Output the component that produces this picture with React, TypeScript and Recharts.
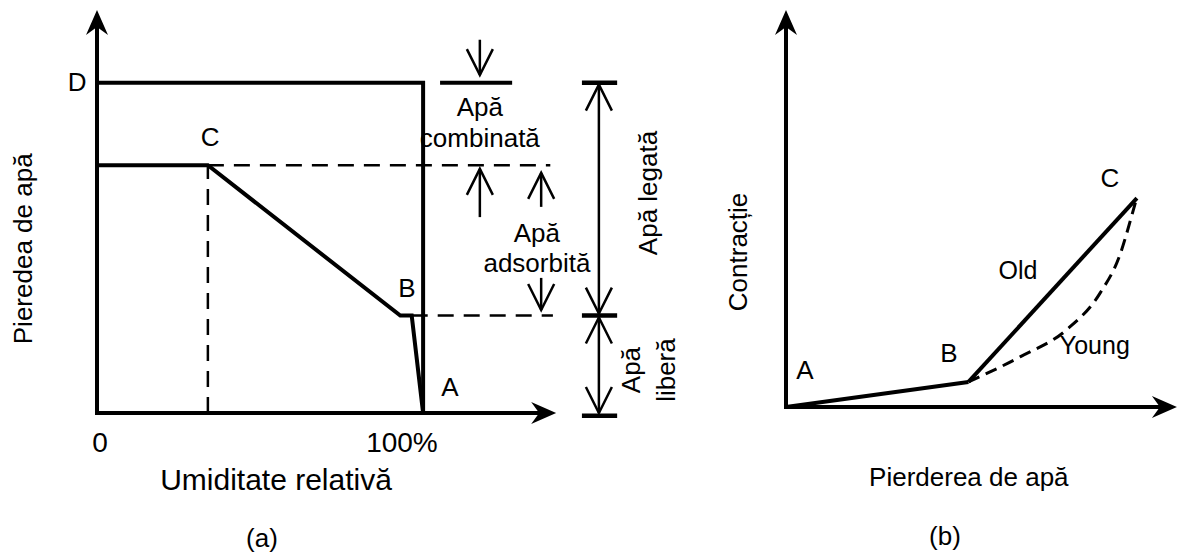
import { LineChart, Line, XAxis, YAxis, ReferenceLine, ReferenceDot } from 'recharts';

const FONT = '"Liberation Sans", Arial, Helvetica, sans-serif';
const INK = '#000';

// ---------- (a) water loss vs relative humidity ----------
const humidityTicks = [0, 100];
const humidityTickText = ['0', '100%'];
// D level held up to 100% RH, then straight down
const combinedCurve = [
  { rh: 0, loss: 100 },
  { rh: 100, loss: 100 },
  { rh: 100, loss: 0 },
];
// C -> B -> A desorption path
const lossCurve = [
  { rh: 0, loss: 75 },
  { rh: 34, loss: 75 },
  { rh: 93, loss: 29.5 },
  { rh: 96.5, loss: 29.5 },
  { rh: 100, loss: 0 },
];
const levelC = 75;
const levelB = 29.5;
const levelD = 100;
const rhC = 34;
const rhB = 96.5;

// ---------- (b) shrinkage vs water loss ----------
const earlyStage = [
  { wl: 0, sh: 0 },
  { wl: 52, sh: 12 },
];
const oldPaste = [
  { wl: 52, sh: 12 },
  { wl: 100, sh: 100 },
];
const youngPaste = [
  { wl: 52, sh: 12 },
  { wl: 66.7, sh: 24 },
  { wl: 80, sh: 37 },
  { wl: 89.5, sh: 54.5 },
  { wl: 95.2, sh: 73 },
  { wl: 98.6, sh: 92 },
  { wl: 99.6, sh: 98 },
];

// arrowhead helpers -------------------------------------------------------
const unit = (x1: number, y1: number, x2: number, y2: number) => {
  const dx = x2 - x1;
  const dy = y2 - y1;
  const d = Math.hypot(dx, dy) || 1;
  return [dx / d, dy / d];
};

const openHead = (x1: number, y1: number, x2: number, y2: number, len = 26, half = 13) => {
  const [ux, uy] = unit(x1, y1, x2, y2);
  const bx = x2 - ux * len;
  const by = y2 - uy * len;
  return `M${bx - uy * half},${by + ux * half}L${x2},${y2}L${bx + uy * half},${by - ux * half}`;
};

const pointer = (p: any) => (
  <g>
    <line x1={p.x1} y1={p.y1} x2={p.x2} y2={p.y2} stroke={INK} strokeWidth={2.5} />
    <path d={openHead(p.x1, p.y1, p.x2, p.y2)} fill="none" stroke={INK} strokeWidth={2.5} />
  </g>
);

const span = (p: any) => (
  <g>
    <line x1={p.x1} y1={p.y1} x2={p.x2} y2={p.y2} stroke={INK} strokeWidth={2.5} />
    <path d={openHead(p.x1, p.y1, p.x2, p.y2)} fill="none" stroke={INK} strokeWidth={2.5} />
    <path d={openHead(p.x2, p.y2, p.x1, p.y1)} fill="none" stroke={INK} strokeWidth={2.5} />
  </g>
);

const axisArrow = (p: any) => {
  const [ux, uy] = unit(p.x1, p.y1, p.x2, p.y2);
  const L = 25;
  const W = 11;
  const N = 17;
  const bx = p.x2 - ux * L;
  const by = p.y2 - uy * L;
  const nx = p.x2 - ux * N;
  const ny = p.y2 - uy * N;
  return (
    <g>
      <line x1={p.x1} y1={p.y1} x2={nx} y2={ny} stroke={INK} strokeWidth={4} strokeLinecap="square" />
      <path
        d={`M${p.x2},${p.y2}L${bx - uy * W},${by + ux * W}L${nx},${ny}L${bx + uy * W},${by - ux * W}Z`}
        fill={INK}
      />
    </g>
  );
};

type TextOpts = { size?: number; rotate?: number; anchor?: 'start' | 'middle' | 'end' };

const textAt = (key: string, x: number, y: number, text: string, o: TextOpts = {}) => (
  <ReferenceDot
    key={key}
    x={x}
    y={y}
    r={0}
    ifOverflow="visible"
    shape={(p: any) => (
      <text
        x={p.cx}
        y={p.cy}
        dy="0.35em"
        textAnchor={o.anchor ?? 'middle'}
        fontFamily={FONT}
        fontSize={o.size ?? 26}
        fill={INK}
        transform={o.rotate ? `rotate(${o.rotate} ${p.cx} ${p.cy})` : undefined}
      >
        {text}
      </text>
    )}
  />
);

const seg = (key: string, x1: number, y1: number, x2: number, y2: number, extra: any = {}) => (
  <ReferenceLine
    key={key}
    segment={[
      { x: x1, y: y1 },
      { x: x2, y: y2 },
    ]}
    ifOverflow="visible"
    stroke={INK}
    {...extra}
  />
);

function PanelA() {
  const dash = { strokeWidth: 2.5, strokeDasharray: '16 10' };
  return (
    <LineChart width={700} height={558} margin={{ top: 10, right: 16, bottom: 145, left: 97 }}>
      <XAxis type="number" dataKey="rh" domain={[0, 180]} hide />
      <YAxis type="number" dataKey="loss" domain={[0, 122]} hide />

      {/* guide lines */}
      {seg('dC', rhC, levelC, 139, levelC, dash)}
      {seg('dCv', rhC, 0, rhC, levelC, dash)}
      {seg('dB', rhB, levelB, 139.8, levelB, dash)}

      <Line data={combinedCurve} dataKey="loss" type="linear" stroke={INK} strokeWidth={4} dot={false} isAnimationActive={false} />
      <Line data={lossCurve} dataKey="loss" type="linear" stroke={INK} strokeWidth={4} dot={false} isAnimationActive={false} />

      {seg('ax', 0, 0, 140.8, 0, { shape: axisArrow })}
      {seg('ay', 0, 0, 0, 122, { shape: axisArrow })}

      {/* combined water marker */}
      {seg('top', 105.2, levelD, 127.3, levelD, { strokeWidth: 4 })}
      {seg('p1', 117.4, 113, 117.4, 102.3, { shape: pointer })}
      {seg('p2', 117.4, 59.3, 117.4, 73.9, { shape: pointer })}
      {seg('p3', 136.2, 62.4, 136.2, 72.7, { shape: pointer })}
      {seg('p4', 136.2, 40.9, 136.2, 31.2, { shape: pointer })}

      {/* bound / free water bracket */}
      {[levelD, levelB, -0.8].map((lv, i) => seg(`t${i}`, 148.7, lv, 159.5, lv, { strokeWidth: 4.5 }))}
      {seg('s1', 153.9, levelD - 0.6, 153.9, levelB + 0.6, { shape: span })}
      {seg('s2', 153.9, levelB - 0.6, 153.9, 0, { shape: span })}

      {textAt('D', -6.1, 100.2, 'D')}
      {textAt('C', 34.7, 83.6, 'C')}
      {textAt('B', 95, 37.8, 'B')}
      {textAt('A', 108.2, 7.9, 'A')}
      {textAt('w1', 117.4, 92.6, 'Apă')}
      {textAt('w2', 117.4, 83.3, 'combinată')}
      {textAt('w3', 134.9, 54.5, 'Apă')}
      {textAt('w4', 134.9, 45.4, 'adsorbită')}
      {textAt('w5', 169, 66.6, 'Apă legată', { rotate: -90 })}
      {textAt('w6', 163.6, 13, 'Apă', { rotate: -90 })}
      {textAt('w7', 174.4, 13, 'liberă', { rotate: -90 })}
      {textAt('t0', humidityTicks[0] + 0.9, -8.8, humidityTickText[0], { size: 28 })}
      {textAt('t1', humidityTicks[1] + 4.5, -8.8, humidityTickText[1], { size: 28, anchor: 'end' })}
      {textAt('xl', 54.9, -20, 'Umiditate relativă', { size: 30 })}
      {textAt('yl', -22.7, 49.7, 'Pieredea de apă', { rotate: -90 })}
      {textAt('cap', 50.6, -37.7, '(a)')}
    </LineChart>
  );
}

function PanelB() {
  return (
    <LineChart width={483} height={558} margin={{ top: 10, right: 11, bottom: 151, left: 86 }}>
      <XAxis type="number" dataKey="wl" domain={[0, 110]} hide />
      <YAxis type="number" dataKey="sh" domain={[0, 190]} hide />

      <Line data={youngPaste} dataKey="sh" type="monotone" stroke={INK} strokeWidth={3} strokeDasharray="12 7" dot={false} isAnimationActive={false} />
      <Line data={earlyStage} dataKey="sh" type="linear" stroke={INK} strokeWidth={4} dot={false} isAnimationActive={false} />
      <Line data={oldPaste} dataKey="sh" type="linear" stroke={INK} strokeWidth={4} dot={false} isAnimationActive={false} />

      {seg('ax', 0, 0, 111.4, 0, { shape: axisArrow })}
      {seg('ay', 0, 0, 0, 190, { shape: axisArrow })}

      {textAt('A', 5.4, 17.7, 'A')}
      {textAt('B', 46.4, 25.8, 'B')}
      {textAt('C', 92.3, 109.6, 'C')}
      {textAt('old', 66.1, 65.6, 'Old', { size: 25 })}
      {textAt('young', 88, 29.7, 'Young', { size: 25 })}
      {textAt('yl', -13.7, 74.2, 'Contracție', { rotate: -90 })}
      {textAt('xl', 52.1, -33.5, 'Pierderea de apă')}
      {textAt('cap', 45.3, -61.5, '(b)')}
    </LineChart>
  );
}

export default function App() {
  return (
    <div style={{ position: 'absolute', left: 0, top: 0, width: 1183, height: 558, background: '#fff' }}>
      <div style={{ position: 'absolute', left: 0, top: 0 }}>
        <PanelA />
      </div>
      <div style={{ position: 'absolute', left: 700, top: 0 }}>
        <PanelB />
      </div>
    </div>
  );
}
